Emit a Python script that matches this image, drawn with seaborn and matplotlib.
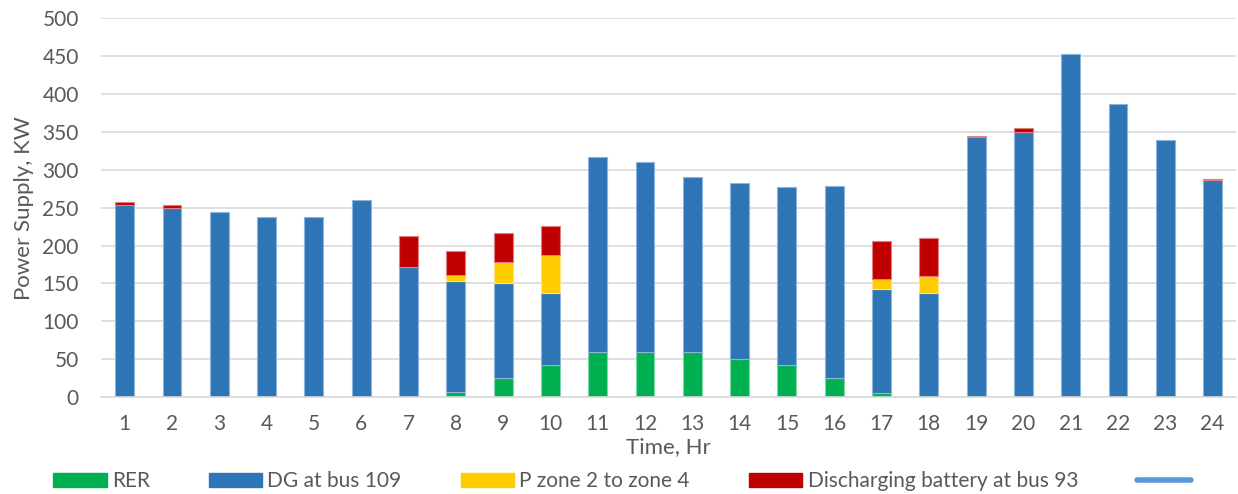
import matplotlib
matplotlib.use("Agg")
import matplotlib.pyplot as plt
import seaborn as sns
from matplotlib.patches import Patch
from matplotlib.lines import Line2D

hours = [str(h) for h in range(1, 25)]
rer = [0, 0, 0, 0, 0, 0, 0, 7, 25, 43, 59, 60, 59, 50, 43, 25, 5, 0, 0, 0, 0, 0, 0, 0]
dg = [253, 250, 244, 238, 238, 260, 172, 146, 125, 94, 258, 250, 231, 232, 234, 253,
      138, 138, 343, 350, 453, 387, 339, 287]
p_zone = [0, 0, 0, 0, 0, 0, 0, 8, 28, 50, 0, 0, 0, 0, 0, 0, 13, 22, 0, 0, 0, 0, 0, 0]
battery = [5, 3, 0, 0, 0, 0, 41, 32, 38, 39, 0, 0, 0, 0, 0, 0, 50, 50, 2, 5, 0, 0, 0, 0.5]

labels = ["RER", "DG at bus 109", "P zone 2 to zone 4", "Discharging battery at bus 93"]
colors = ["#00B050", "#2E75B6", "#FFCC00", "#C00000"]
edges = ["#7FD7A7", "#8DB4DB", "#FFE380", "#E08080"]
TXT = "#595959"

sns.set_style("white")
plt.rcParams['font.family'] = ['Lato', 'DejaVu Sans']

fig = plt.figure(figsize=(12.38, 4.94), dpi=100)
ax = fig.add_axes([0.0816, 0.196, 0.917, 0.7672])

bottom = [0] * 24
for vals, col, ec in zip([rer, dg, p_zone, battery], colors, edges):
    sns.barplot(x=hours, y=vals, bottom=bottom, color=col, width=0.4,
                edgecolor=ec, linewidth=0.8, saturation=1, ax=ax)
    bottom = [b + v for b, v in zip(bottom, vals)]

# empty segments should not leave an outline behind
for bar in ax.patches:
    if bar.get_height() == 0:
        bar.set_linewidth(0)

ax.set_ylim(0, 500)
ax.set_xlim(-0.5, 23.5)
ax.set_yticks(range(0, 501, 50))
ax.yaxis.grid(True, color="#D9D9D9", linewidth=1.2)
ax.set_axisbelow(True)
for s in ["top", "right", "left"]:
    ax.spines[s].set_visible(False)
ax.spines["bottom"].set_color("#D9D9D9")
ax.spines["bottom"].set_linewidth(1.2)
ax.tick_params(axis="both", length=0, labelsize=15, labelcolor=TXT)
ax.tick_params(axis="y", pad=16)
ax.tick_params(axis="x", pad=12)
ax.set_xlabel("Time, Hr", fontsize=16, color=TXT, labelpad=2)
ax.set_ylabel("Power Supply, KW", fontsize=16, color=TXT, labelpad=6)

handles = [Patch(facecolor=c, edgecolor=c) for c in colors]
handles.append(Line2D([], [], color="#5B9BD5", linewidth=4, solid_capstyle="round"))
fig.legend(handles, labels + [""], loc="center", bbox_to_anchor=(0.5045, 0.026),
           ncol=5, frameon=False, fontsize=15, labelcolor=TXT,
           handlelength=2.55, handleheight=0.65, handletextpad=0.25, columnspacing=2.85)

fig.savefig("out.png", dpi=100)
